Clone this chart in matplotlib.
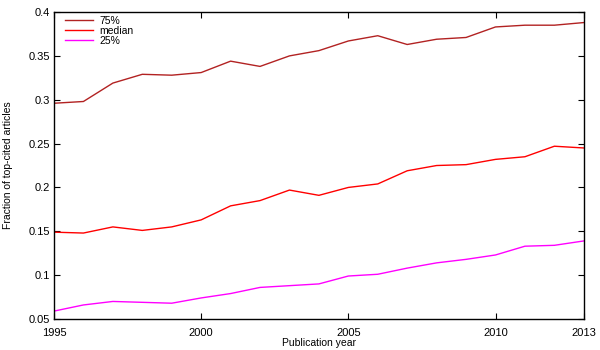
import matplotlib
matplotlib.use("Agg")
import matplotlib.pyplot as plt

plt.rcParams['font.family'] = ['Liberation Sans', 'DejaVu Sans']

years = list(range(1995, 2014))
q75 = [0.296, 0.298, 0.319, 0.329, 0.328, 0.331, 0.344, 0.338, 0.350, 0.356,
       0.367, 0.373, 0.363, 0.369, 0.371, 0.383, 0.385, 0.385, 0.388]
median = [0.149, 0.148, 0.155, 0.151, 0.155, 0.163, 0.179, 0.185, 0.197, 0.191,
          0.200, 0.204, 0.219, 0.225, 0.226, 0.232, 0.235, 0.247, 0.245]
q25 = [0.059, 0.066, 0.070, 0.069, 0.068, 0.074, 0.079, 0.086, 0.088, 0.090,
       0.099, 0.101, 0.108, 0.114, 0.118, 0.123, 0.133, 0.134, 0.139]

xticks = [1995, 2000, 2005, 2010, 2013]
yticks = [0.05, 0.1, 0.15, 0.2, 0.25, 0.3, 0.35, 0.4]

fig = plt.figure(figsize=(6, 3.5), dpi=100)
ax = fig.add_axes([0.09, 0.0886, 0.883, 0.877])

ax.plot(years, q75, color='#b22222', lw=1.0, label='75%')
ax.plot(years, median, color='#ff0000', lw=1.0, label='median')
ax.plot(years, q25, color='#ff00ff', lw=1.0, label='25%')

ax.set_xlim(1995, 2013)
ax.set_ylim(0.05, 0.4)
ax.set_xticks(xticks)
ax.set_xticklabels([str(t) for t in xticks])
ax.set_yticks(yticks)
ax.set_yticklabels(['0.05', '0.1', '0.15', '0.2', '0.25', '0.3', '0.35', '0.4'])
ax.tick_params(direction='in', top=True, right=True, length=4, width=0.8,
               labelsize=8)
ax.tick_params(axis='x', pad=6.5)
ax.tick_params(axis='y', pad=3)
for s in ax.spines.values():
    s.set_linewidth(1.0)

ax.set_xlabel('Publication year', fontsize=7.5, labelpad=0)
ax.set_ylabel('Fraction of top-cited articles', fontsize=7.5, labelpad=11)

ax.legend(loc='upper left', frameon=False, fontsize=7.5, handlelength=2.7,
          handletextpad=0.6, labelspacing=0.0, borderpad=0, borderaxespad=0,
          bbox_to_anchor=(11 / 530, 1 - 4 / 307))

fig.savefig('out.png', dpi=100)
